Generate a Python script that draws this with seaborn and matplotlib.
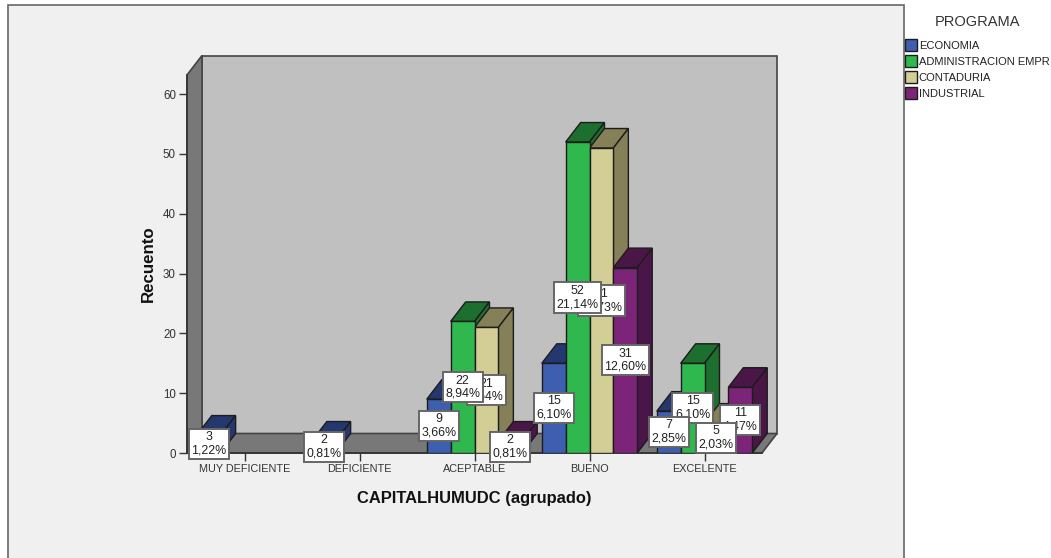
import numpy as np
import pandas as pd
import matplotlib.pyplot as plt
from matplotlib.patches import Polygon, Rectangle
import seaborn as sns

# Values
categorias = ["MUY DEFICIENTE", "DEFICIENTE", "ACEPTABLE", "BUENO", "EXCELENTE"]
programas = ["ECONOMIA", "ADMINISTRACION EMPR", "CONTADURIA", "INDUSTRIAL"]

economia = [3, 2, 9, 15, 7]
administracion = [np.nan, np.nan, 22, 52, 15]
contaduria = [np.nan, np.nan, 21, 51, 5]
industrial = [np.nan, np.nan, 2, 31, 11]

pct_economia = ["1,22%", "0,81%", "3,66%", "6,10%", "2,85%"]
pct_administracion = ["", "", "8,94%", "21,14%", "6,10%"]
pct_contaduria = ["", "", "8,54%", "20,73%", "2,03%"]
pct_industrial = ["", "", "0,81%", "12,60%", "4,47%"]

colores = ["#3e5fb0", "#2eb84e", "#d3cd96", "#7b2478"]
colores_oscuros = ["#24386f", "#1c6f2f", "#858058", "#4a1648"]

W, H = 1051, 558

sns.set_theme(style="white")
plt.rcParams["font.family"] = ["Liberation Sans", "DejaVu Sans"]

df = pd.DataFrame({
    "categoria": categorias * 4,
    "programa": np.repeat(programas, 5),
    "recuento": economia + administracion + contaduria + industrial,
})
porcentajes = [pct_economia, pct_administracion, pct_contaduria, pct_industrial]

fig = plt.figure(figsize=(W / 100, H / 100), dpi=100, facecolor="white")
fig.add_artist(Rectangle((8 / W, -0.02), 896 / W, 1.01 - 5 / H + 0.01,
                         transform=fig.transFigure, facecolor="#f0f0f0",
                         edgecolor="#666666", linewidth=1.2, zorder=-5))

# axes box = front plane of the 3D chart, pixels 187-762 / 75-453
ax = fig.add_axes([187 / W, 1 - 453 / H, 575 / W, 378 / H])
ax.patch.set_visible(False)

sns.barplot(data=df, x="categoria", y="recuento", hue="programa",
            order=categorias, hue_order=programas, palette=colores,
            saturation=1, width=0.83, gap=0, edgecolor="#1c1c1c",
            linewidth=1.0, zorder=5, ax=ax)

ax.set_xlim(-0.5, 4.5)
ax.set_ylim(0, 378 / 5.98)
ax.set_yticks(range(0, 61, 10))

# depth of the fake 3D, as data units (15 px right, 20 px up)
dx = 15 / 115
dy = 19.5 / 5.98
x0, x1 = ax.get_xlim()
y0, y1 = ax.get_ylim()

# walls and floor
ax.add_patch(Polygon([(x0 + dx, y0 + dy), (x1 + dx, y0 + dy), (x1 + dx, y1 + dy), (x0 + dx, y1 + dy)],
                     facecolor="#c0c0c0", edgecolor="#444444", lw=1.2, clip_on=False, zorder=1))
ax.add_patch(Polygon([(x0, y0), (x0 + dx, y0 + dy), (x0 + dx, y1 + dy), (x0, y1)],
                     facecolor="#787878", edgecolor="#444444", lw=1.2, clip_on=False, zorder=2))
ax.add_patch(Polygon([(x0, y0), (x1, y0), (x1 + dx, y0 + dy), (x0 + dx, y0 + dy)],
                     facecolor="#787878", edgecolor="#444444", lw=1.2, clip_on=False, zorder=2))

# top and side faces of the bars, then the white value boxes
for i, cont in enumerate(ax.containers):
    for bar in cont:
        v = bar.get_height()
        if not v > 0:
            continue
        xa = bar.get_x()
        xb = xa + bar.get_width()
        ax.add_patch(Polygon([(xa, v), (xb, v), (xb + dx, v + dy), (xa + dx, v + dy)],
                             facecolor=colores_oscuros[i], edgecolor="#1c1c1c", lw=1.0,
                             clip_on=False, zorder=3))
        ax.add_patch(Polygon([(xb, 0), (xb + dx, dy), (xb + dx, v + dy), (xb, v)],
                             facecolor=colores_oscuros[i], edgecolor="#1c1c1c", lw=1.0,
                             clip_on=False, zorder=3))
        cat = int(round((xa + xb) / 2))
        orden = 10 + (v if v > 20 else 20 - v)
        ax.text((xa + xb) / 2, v / 2, f"{int(v)}\n{porcentajes[i][cat]}",
                ha="center", va="center", fontsize=8.9, color="#222222",
                linespacing=1.15, clip_on=False, zorder=orden,
                bbox=dict(boxstyle="square,pad=0.2", facecolor="white",
                          edgecolor="#666666", linewidth=1.4))

# axes
sns.despine(ax=ax, top=True, right=True)
for lado in ["left", "bottom"]:
    ax.spines[lado].set_color("#333333")
    ax.spines[lado].set_linewidth(1.2)
    ax.spines[lado].set_zorder(4)
ax.tick_params(axis="both", length=6, width=1, color="#333333", labelcolor="#333333",
               pad=2, bottom=True, left=True)
ax.tick_params(axis="x", labelsize=7.8)
ax.tick_params(axis="y", labelsize=8.3)
ax.set_xlabel("CAPITALHUMUDC (agrupado)", fontsize=11.9, fontweight="bold", color="#111111")
ax.xaxis.set_label_coords((474 - 187) / 575, -(499 - 453) / 378, transform=ax.transAxes)
ax.xaxis.label.set_va("center")
ax.set_ylabel("Recuento", fontsize=12.2, fontweight="bold", color="#111111")
ax.yaxis.set_label_coords((148 - 187) / 575, (453 - 264) / 378, transform=ax.transAxes)
ax.yaxis.label.set_va("center")

# legend
sns.move_legend(ax, "upper left", bbox_to_anchor=(903 / W, 1 - 13 / H),
                bbox_transform=fig.transFigure, frameon=False, title="PROGRAMA",
                fontsize=8.0, title_fontsize=10.5, handlelength=1.1, handleheight=1.3,
                handletextpad=0.12, labelspacing=0.35, borderpad=0.2, borderaxespad=0)
leg = ax.get_legend()
leg._legend_box.sep = 7
for t in leg.get_texts():
    t.set_color("#222222")
leg.get_title().set_color("#333333")

fig.savefig("out.png", dpi=100, facecolor=fig.get_facecolor())
